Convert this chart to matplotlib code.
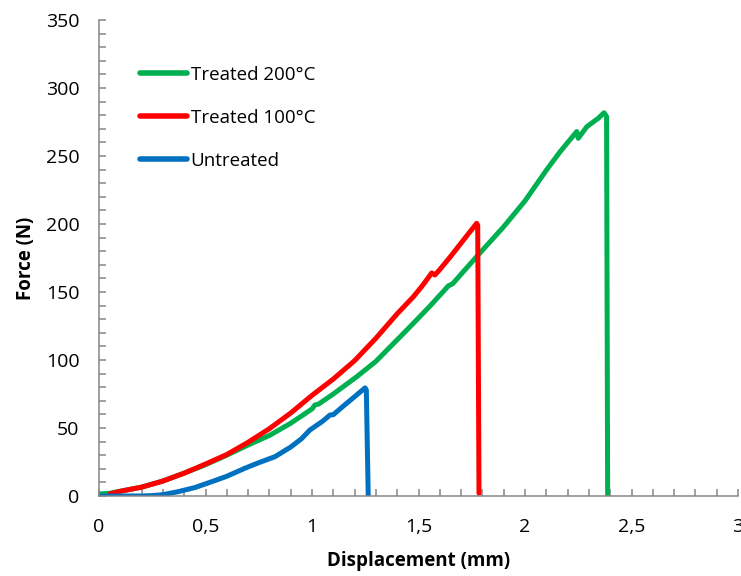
import matplotlib
matplotlib.use('Agg')
import matplotlib.pyplot as plt
from matplotlib.ticker import MultipleLocator, FuncFormatter

# Data (displacement in mm, force in N)
untreated_x = [0, 0.1, 0.2, 0.25, 0.3, 0.372, 0.45, 0.529, 0.6, 0.685, 0.75, 0.826,
               0.9, 0.95, 0.99, 1.05, 1.085, 1.1, 1.15, 1.2, 1.249, 1.255, 1.264]
untreated_y = [0, 0, 0, 0.3, 1.0, 3.2, 6.2, 10.5, 14.5, 20.4, 24.5, 28.9,
               36, 42, 48.5, 55, 59.6, 59.8, 66.5, 73, 79.5, 78, 0]

t100_x = [0.05, 0.1, 0.2, 0.3, 0.4, 0.5, 0.6, 0.7, 0.8, 0.9, 1.0, 1.1, 1.2, 1.3,
          1.4, 1.476, 1.52, 1.562, 1.577, 1.6, 1.65, 1.7, 1.773, 1.778, 1.784]
t100_y = [1.5, 3.5, 6.5, 11, 16.8, 23.5, 30.5, 39.5, 49.5, 61, 74, 86, 99.5, 116,
          134, 146.5, 155, 164, 162.5, 166.5, 176, 186, 200.5, 199, 2]

t200_x = [0, 0.05, 0.1, 0.2, 0.3, 0.4, 0.5, 0.6, 0.7, 0.8, 0.9, 1.0, 1.014, 1.03,
          1.1, 1.21, 1.3, 1.445, 1.55, 1.62, 1.64, 1.66, 1.773, 1.9, 2.0, 2.1,
          2.164, 2.243, 2.25, 2.29, 2.32, 2.344, 2.371, 2.383, 2.388]
t200_y = [1.5, 2, 3.5, 6.5, 11, 16.8, 23, 30, 37.5, 44.5, 53.5, 64, 67, 67.5,
          75, 87.7, 99, 122, 139, 151, 154.5, 156, 176, 198, 217, 239.5,
          253, 268, 263, 271.5, 275, 277.7, 281.8, 279, 0]

x_ticks = [0, 0.5, 1, 1.5, 2, 2.5, 3]
y_ticks = [0, 50, 100, 150, 200, 250, 300, 350]

plt.rcParams['font.family'] = ['Open Sans', 'DejaVu Sans']

fig = plt.figure(figsize=(7.41, 5.76), dpi=100)
ax = fig.add_axes([99 / 741, 1 - 496 / 576, 639 / 741, 476 / 576])

ax.plot(t200_x, t200_y, color='#00B050', lw=3.6, label='Treated 200°C',
        solid_joinstyle='round', solid_capstyle='round')
ax.plot(t100_x, t100_y, color='#FF0000', lw=3.6, label='Treated 100°C',
        solid_joinstyle='round', solid_capstyle='round')
ax.plot(untreated_x, untreated_y, color='#0070C0', lw=3.6, label='Untreated',
        solid_joinstyle='round', solid_capstyle='round')

ax.set_xlim(0, 3)
ax.set_ylim(0, 350)
ax.set_xticks(x_ticks)
ax.set_yticks(y_ticks)
ax.xaxis.set_minor_locator(MultipleLocator(0.1))
ax.yaxis.set_minor_locator(MultipleLocator(10))
ax.xaxis.set_major_formatter(FuncFormatter(lambda v, p: f'{v:g}'.replace('.', ',')))

for side in ['top', 'right']:
    ax.spines[side].set_visible(False)
for side in ['left', 'bottom']:
    ax.spines[side].set_color('#868686')
    ax.spines[side].set_linewidth(1.1)

ax.tick_params(which='both', direction='in', color='#868686', width=1.1,
               length=5, labelsize=14, labelcolor='black')
ax.tick_params(axis='x', which='major', pad=15.5)
ax.tick_params(axis='y', which='major', pad=14)

ax.set_xlabel('Displacement (mm)', fontsize=13.5, fontweight='bold', labelpad=11)
ax.set_ylabel('Force (N)', fontsize=13.5, fontweight='bold', labelpad=7)

leg = ax.legend(loc='upper left', bbox_to_anchor=(140 / 741, 1 - 65.5 / 576),
                bbox_transform=fig.transFigure, frameon=False, fontsize=13.5,
                handlelength=2.5, handletextpad=0.2, labelspacing=1.34,
                borderpad=0, borderaxespad=0)
for line in leg.get_lines():
    line.set_linewidth(4)

fig.savefig('out.png', dpi=100)
